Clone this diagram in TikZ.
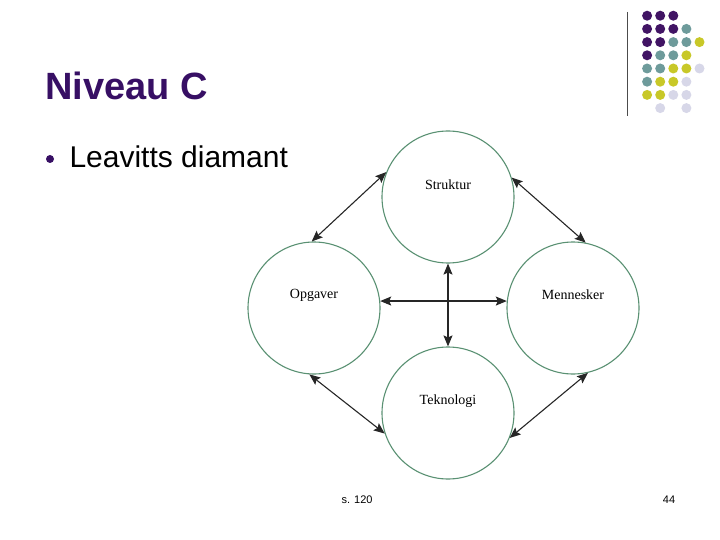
\documentclass[tikz,border=0pt]{standalone}
\usepackage{fontspec}
\setmainfont{Liberation Serif}
\newfontfamily\arialfont{Liberation Sans}
\usepackage{tikz}
\usetikzlibrary{arrows,arrows.meta,positioning,calc}
\definecolor{titlepurple}{RGB}{55,15,100}
\definecolor{dotpurple}{RGB}{65,20,100}
\definecolor{dotteal}{RGB}{110,155,155}
\definecolor{dotyellow}{RGB}{200,200,40}
\definecolor{dotlilac}{RGB}{215,215,232}
\definecolor{ringgreen}{RGB}{90,145,115}
\tikzstyle{ring}=[circle,draw=ringgreen,line width=1.1pt,minimum size=132pt,inner sep=0pt]
\tikzstyle{ringlabel}=[font=\fontsize{14}{16}\selectfont,text=black]
\tikzstyle{link}=[{Stealth[length=11pt,width=9pt,inset=2pt]}-{Stealth[length=11pt,width=9pt,inset=2pt]},line width=1.1pt,black!85]
\tikzstyle{footer}=[font=\arialfont\fontsize{11}{12}\selectfont]

\begin{document}
\begin{tikzpicture}[x=1pt,y=-1pt]
      \useasboundingbox (0,0) rectangle (720,540);
      % slide heading
      \node[anchor=base west, text=titlepurple, font=\arialfont\bfseries\fontsize{38}{40}\selectfont] at (42,100) (title) {Niveau C};
      \fill[titlepurple] (50,159) circle (4);
      \node[anchor=base west, font=\arialfont\fontsize{30}{32}\selectfont] at (66,168) (bullet) {Leavitts diamant};
      % dot pattern
      \draw[black!70, line width=0.8pt] (627,12) -- (627,116);
      \foreach \c/\r/\col in {1/1/dotpurple,2/1/dotpurple,3/1/dotpurple,
        1/2/dotpurple,2/2/dotpurple,3/2/dotpurple,4/2/dotteal,
        1/3/dotpurple,2/3/dotpurple,3/3/dotteal,4/3/dotteal,5/3/dotyellow,
        1/4/dotpurple,2/4/dotteal,3/4/dotteal,4/4/dotyellow,
        1/5/dotteal,2/5/dotteal,3/5/dotyellow,4/5/dotyellow,5/5/dotlilac,
        1/6/dotteal,2/6/dotyellow,3/6/dotyellow,4/6/dotlilac,
        1/7/dotyellow,2/7/dotyellow,3/7/dotlilac,4/7/dotlilac,
        2/8/dotlilac,4/8/dotlilac}
        \fill[\col] (634+13.1*\c,2.5+13.2*\r) circle (5);
      % diamond
      \node[ring] at (448,197) (struktur) {};
      \node[ring] at (314,308) (opgaver) {};
      \node[ring] at (573,308) (mennesker) {};
      \node[ring] at (448,413) (teknologi) {};
      \node[ringlabel] at ([yshift=12pt]struktur.center) (struktur-txt) {Struktur};
      \node[ringlabel] at ([yshift=13pt]opgaver.center) (opgaver-txt) {Opgaver};
      \node[ringlabel] at ([yshift=13pt]mennesker.center) (mennesker-txt) {Mennesker};
      \node[ringlabel] at ([yshift=12pt]teknologi.center) (teknologi-txt) {Teknologi};
      \draw[link] (struktur.158) -- (opgaver.92);
      \draw[link] (struktur.17) -- (mennesker.79);
      \draw[link] (opgaver.266) -- (teknologi.198);
      \draw[link] (mennesker.283) -- (teknologi.338);
      \draw[link] (struktur.south) -- (teknologi.north);
      \draw[link] (opgaver.6) -- (mennesker.174);
      % footer
      \node[footer] at (357,500) (source) {s. 120};
      \node[footer] at (669,500) (slideno) {44};
\end{tikzpicture}
\end{document}
